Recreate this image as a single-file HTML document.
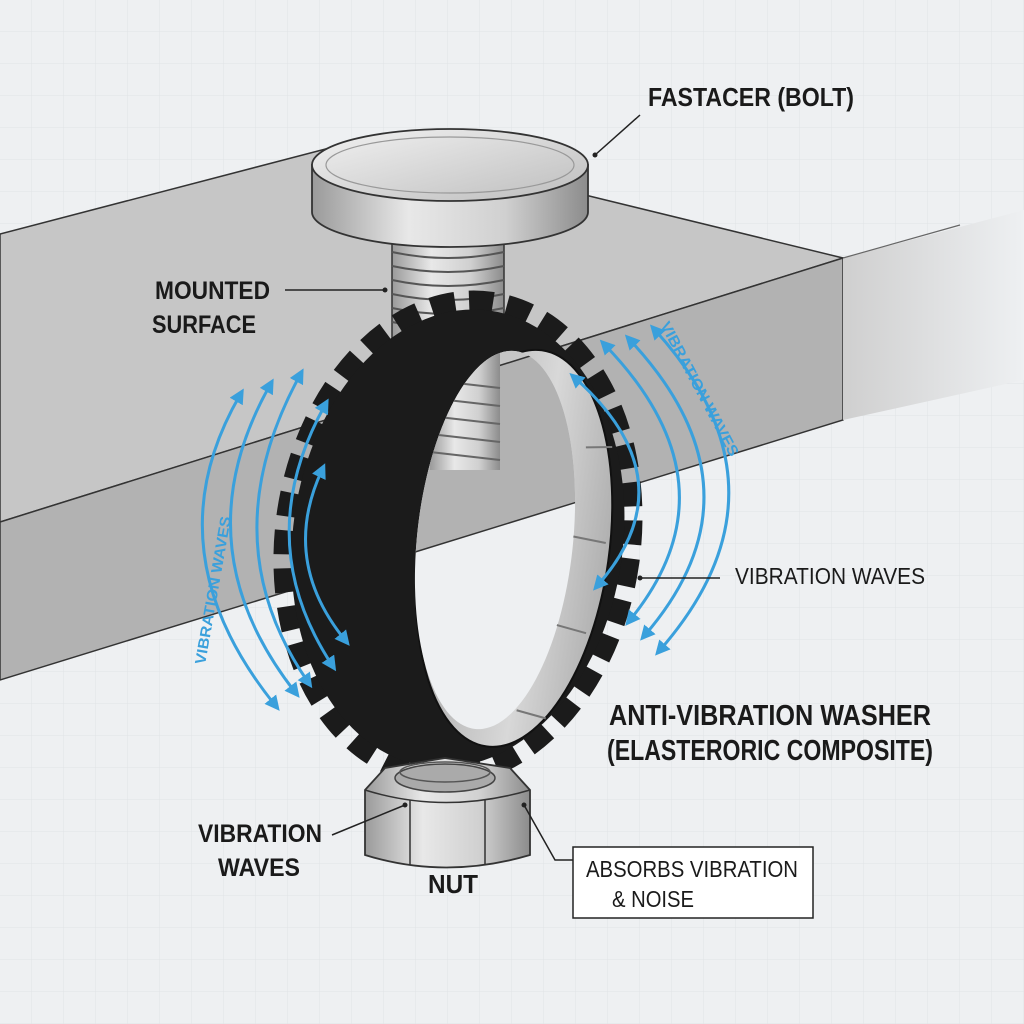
<!DOCTYPE html>
<html><head><meta charset="utf-8"><style>
html,body{margin:0;padding:0;background:#eef0f2}
svg{display:block}
text{font-family:"Liberation Sans",sans-serif;fill:#1a1a1a}
.b{font-weight:bold}
</style></head><body>
<svg width="1024" height="1024" viewBox="0 0 1024 1024" xmlns="http://www.w3.org/2000/svg">
<defs>
<pattern id="grid" width="32" height="32" patternUnits="userSpaceOnUse">
<path d="M32 0V32H0" fill="none" stroke="#e0e3e6" stroke-width="1"/>
</pattern>
<linearGradient id="rightF" x1="0" x2="1">
<stop offset="0" stop-color="#cfcfcf"/><stop offset="1" stop-color="#eef0f2"/>
</linearGradient>
<linearGradient id="metal" x1="0" x2="1">
<stop offset="0" stop-color="#9a9a9a"/><stop offset="0.35" stop-color="#e8e8e8"/><stop offset="0.7" stop-color="#d0d0d0"/><stop offset="1" stop-color="#8c8c8c"/>
</linearGradient>
<linearGradient id="headTop" x1="0" x2="1" y1="0" y2="1">
<stop offset="0" stop-color="#f2f2f2"/><stop offset="1" stop-color="#bdbdbd"/>
</linearGradient>
<linearGradient id="band" x1="0" x2="1">
<stop offset="0" stop-color="#a8a8a8"/><stop offset="0.6" stop-color="#d8d8d8"/><stop offset="1" stop-color="#b0b0b0"/>
</linearGradient>
<marker id="ar" viewBox="0 0 10 10" refX="5" refY="5" markerWidth="5" markerHeight="5" orient="auto-start-reverse">
<path d="M0 0L10 5L0 10z" fill="#3aa0dc"/>
</marker>
<clipPath id="hole"><ellipse cx="495" cy="540" rx="78" ry="190" transform="rotate(6 495 540)"/></clipPath>
</defs>
<rect width="1024" height="1024" fill="#eef0f2"/>
<rect width="1024" height="1024" fill="url(#grid)"/>

<polygon points="0,234 360,140 843,258 0,522" fill="#c6c6c6" stroke="#333" stroke-width="1.5"/>
<polygon points="0,522 843,258 843,420 0,680" fill="#b2b2b2" stroke="#333" stroke-width="1.5"/>
<polygon points="843,258 1024,210 1024,380 843,420" fill="url(#rightF)"/>
<line x1="843" y1="258" x2="960" y2="225" stroke="#666" stroke-width="1.2"/>

<rect x="392" y="215" width="112" height="130" fill="url(#metal)" stroke="#333" stroke-width="1.5"/>
<g stroke="#555" stroke-width="2" fill="none">
<path d="M392 238Q448 250 504 238M392 252Q448 264 504 252M392 266Q448 278 504 266M392 280Q448 292 504 280M392 294Q448 306 504 294M392 308Q448 320 504 308M392 322Q448 334 504 322"/>
</g>
<path d="M312 165 L312 212 A138 35 0 0 0 588 212 L588 165 Z" fill="url(#metal)" stroke="#333" stroke-width="1.8"/>
<ellipse cx="450" cy="165" rx="138" ry="36" fill="url(#headTop)" stroke="#333" stroke-width="1.8"/>
<ellipse cx="450" cy="165" rx="124" ry="28" fill="none" stroke="#999" stroke-width="1.2"/>

<g transform="rotate(8 455 538)">
<ellipse cx="458" cy="538" rx="172" ry="238" fill="none" stroke="#1b1b1b" stroke-width="22" stroke-dasharray="24 14"/>
<ellipse cx="458" cy="538" rx="165" ry="230" fill="#1b1b1b"/>
<ellipse cx="515" cy="540" rx="95" ry="200" fill="url(#band)" stroke="#111" stroke-width="2"/>
</g>
<g clip-path="url(#hole)">
<rect x="380" y="330" width="250" height="420" fill="#eef0f2"/>
<polygon points="0,234 360,140 843,258 0,522" fill="#c6c6c6"/>
<polygon points="0,522 843,258 843,420 0,680" fill="#b2b2b2"/>
<line x1="0" y1="680" x2="843" y2="420" stroke="#333" stroke-width="1.5"/>
<line x1="0" y1="522" x2="843" y2="258" stroke="#333" stroke-width="1.5"/>
<rect x="430" y="300" width="70" height="170" fill="url(#metal)"/>
<g stroke="#666" stroke-width="2"><line x1="430" y1="380" x2="500" y2="388"/><line x1="430" y1="398" x2="500" y2="406"/><line x1="430" y1="416" x2="500" y2="424"/><line x1="430" y1="434" x2="500" y2="442"/><line x1="430" y1="452" x2="500" y2="460"/></g>
</g>
<g transform="rotate(8 455 538)" stroke="#777" stroke-width="2">
<line x1="572" y1="430" x2="598" y2="426"/><line x1="572" y1="520" x2="605" y2="522"/><line x1="568" y1="610" x2="598" y2="614"/><line x1="540" y1="700" x2="570" y2="704"/>
</g>

<path d="M365 790 L385 768 L445 758 L510 768 L530 790 L530 855 Q445 880 365 855 Z" fill="url(#metal)" stroke="#333" stroke-width="1.8"/>
<path d="M365 790 Q445 815 530 790" fill="none" stroke="#333" stroke-width="1.5"/>
<line x1="410" y1="800" x2="410" y2="865" stroke="#333" stroke-width="1.5"/>
<line x1="485" y1="800" x2="485" y2="865" stroke="#333" stroke-width="1.5"/>
<ellipse cx="445" cy="778" rx="50" ry="14" fill="#aaa" stroke="#444" stroke-width="1.5"/>
<ellipse cx="445" cy="772" rx="45" ry="10" fill="none" stroke="#555" stroke-width="1.5"/>

<g fill="none" stroke="#3aa0dc" stroke-width="3" marker-start="url(#ar)" marker-end="url(#ar)">
<path d="M240 395 Q150 550 275 705"/>
<path d="M270 385 Q180 545 295 692"/>
<path d="M300 375 Q210 540 308 682"/>
<path d="M325 405 Q250 540 332 665"/>
<path d="M322 470 Q280 560 345 640"/>
<path d="M655 330 Q800 490 660 650"/>
<path d="M630 340 Q770 490 645 635"/>
<path d="M605 345 Q740 485 630 620"/>
<path d="M575 378 Q690 480 598 585"/>
</g>
<text class="b" transform="translate(205,665) rotate(-80)" font-size="15" textLength="150" lengthAdjust="spacingAndGlyphs" style="fill:#3aa0dc">VIBRATION WAVES</text>
<text class="b" transform="translate(660,325) rotate(62)" font-size="15" textLength="150" lengthAdjust="spacingAndGlyphs" style="fill:#3aa0dc">VIBRATION WAVES</text>

<g stroke="#222" stroke-width="1.5" fill="none">
<path d="M595 155 L640 115"/>
<path d="M285 290 L385 290"/>
<path d="M640 578 L720 578"/>
<path d="M332 835 L405 805"/>
<path d="M524 805 L555 860 L573 860"/>
</g>
<circle cx="595" cy="155" r="2.5" fill="#222"/>
<circle cx="385" cy="290" r="2.5" fill="#222"/>
<circle cx="640" cy="578" r="2.5" fill="#222"/>
<circle cx="405" cy="805" r="2.5" fill="#222"/>
<circle cx="524" cy="805" r="2.5" fill="#222"/>

<text class="b" x="648" y="106" font-size="26" textLength="206" lengthAdjust="spacingAndGlyphs">FASTACER (BOLT)</text>
<text class="b" x="155" y="299" font-size="25" textLength="115" lengthAdjust="spacingAndGlyphs">MOUNTED</text>
<text class="b" x="152" y="333" font-size="25" textLength="104" lengthAdjust="spacingAndGlyphs">SURFACE</text>
<text x="735" y="584" font-size="23" textLength="190" lengthAdjust="spacingAndGlyphs">VIBRATION WAVES</text>
<text class="b" x="609" y="725" font-size="29" textLength="322" lengthAdjust="spacingAndGlyphs">ANTI-VIBRATION WASHER</text>
<text class="b" x="607" y="760" font-size="29" textLength="326" lengthAdjust="spacingAndGlyphs">(ELASTERORIC COMPOSITE)</text>
<text class="b" x="198" y="842" font-size="25" textLength="124" lengthAdjust="spacingAndGlyphs">VIBRATION</text>
<text class="b" x="218" y="876" font-size="25" textLength="82" lengthAdjust="spacingAndGlyphs">WAVES</text>
<text class="b" x="428" y="893" font-size="26" textLength="50" lengthAdjust="spacingAndGlyphs">NUT</text>
<rect x="573" y="847" width="240" height="71" fill="#fff" stroke="#222" stroke-width="1.5"/>
<text x="586" y="877" font-size="23" textLength="212" lengthAdjust="spacingAndGlyphs">ABSORBS VIBRATION</text>
<text x="612" y="907" font-size="23" textLength="82" lengthAdjust="spacingAndGlyphs">&amp; NOISE</text>
</svg>
</body></html>
